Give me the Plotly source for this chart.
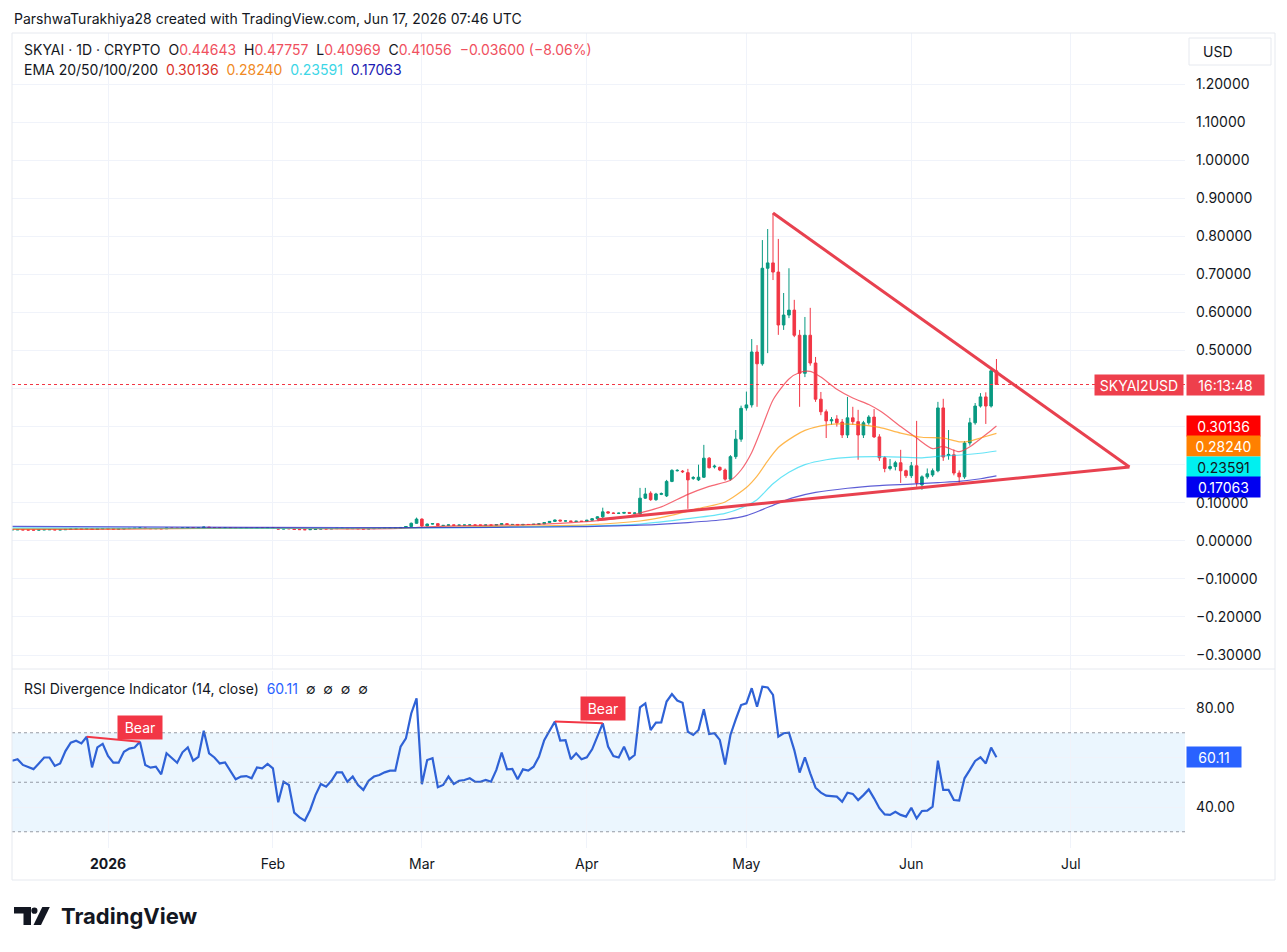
import pandas as pd
import plotly.graph_objects as go

# ---------------- data ----------------
dates = pd.date_range("2025-12-14", "2026-06-17", freq="D")

open_ = [
    # Dec 14-31
    0.0288, 0.0290, 0.0292, 0.0286, 0.0284, 0.0282, 0.0287, 0.0293, 0.0293, 0.0287, 0.0290, 0.0300, 0.0309, 0.0312, 0.0310, 0.0318, 0.0300, 0.0315,
    # Jan
    0.0320, 0.0314, 0.0310, 0.0312, 0.0320, 0.0325, 0.0328, 0.0336, 0.0322, 0.0320, 0.0321, 0.0316, 0.0333, 0.0330, 0.0327, 0.0337,
    0.0344, 0.0334, 0.0338, 0.0360, 0.0345, 0.0342, 0.0338, 0.0339, 0.0332, 0.0327, 0.0329, 0.0329, 0.0328, 0.0335, 0.0334,
    # Feb
    0.0337, 0.0333, 0.0308, 0.0320, 0.0317, 0.0298, 0.0294, 0.0291, 0.0298, 0.0308, 0.0316, 0.0314, 0.0319, 0.0326,
    0.0326, 0.0319, 0.0323, 0.0316, 0.0312, 0.0319, 0.0323, 0.0324, 0.0327, 0.0329, 0.0329, 0.0350, 0.0375, 0.0460,
    # Mar
    0.0570, 0.0390, 0.0440, 0.0450, 0.0400, 0.0405, 0.0418, 0.0408, 0.0412, 0.0413, 0.0416, 0.0411, 0.0411, 0.0414, 0.0411, 0.0425,
    0.0450, 0.0428, 0.0430, 0.0418, 0.0430, 0.0428, 0.0435, 0.0445, 0.0480, 0.0510, 0.0545, 0.0520, 0.0522, 0.0505, 0.0515,
    # Apr
    0.0510, 0.0540, 0.0580, 0.0630, 0.0760, 0.0730, 0.0720, 0.0725, 0.0745, 0.0720, 0.0710, 0.1120, 0.1250, 0.1080, 0.1220,
    0.1180, 0.1560, 0.1840, 0.1830, 0.1790, 0.1640, 0.1600, 0.1670, 0.2170, 0.1940, 0.1930, 0.1860, 0.1620, 0.2210, 0.2670,
    # May
    0.3490, 0.3570, 0.4960, 0.4650, 0.7160, 0.7300, 0.7060, 0.5670, 0.5930, 0.6060, 0.5400, 0.4400, 0.5400, 0.4670, 0.3720, 0.3390,
    0.3150, 0.3200, 0.3120, 0.2780, 0.3230, 0.3130, 0.2780, 0.3100, 0.3250, 0.2730, 0.2180, 0.1900, 0.1950, 0.2050, 0.1840,
    # Jun 1-17
    0.1710, 0.1970, 0.1470, 0.1680, 0.1730, 0.1840, 0.3490, 0.2240, 0.2260, 0.1780, 0.1680, 0.2570, 0.3100, 0.3540, 0.3780, 0.3540, 0.44643,
]
high = [
    0.0296, 0.0298, 0.0295, 0.0290, 0.0289, 0.0292, 0.0299, 0.0300, 0.0296, 0.0295, 0.0306, 0.0315, 0.0319, 0.0316, 0.0325, 0.0321, 0.0320, 0.0327,
    0.0325, 0.0318, 0.0316, 0.0324, 0.0330, 0.0333, 0.0342, 0.0340, 0.0326, 0.0326, 0.0325, 0.0338, 0.0337, 0.0333, 0.0342, 0.0350,
    0.0348, 0.0343, 0.0366, 0.0364, 0.0350, 0.0346, 0.0344, 0.0343, 0.0335, 0.0333, 0.0334, 0.0333, 0.0340, 0.0339, 0.0342,
    0.0342, 0.0338, 0.0325, 0.0325, 0.0321, 0.0302, 0.0299, 0.0303, 0.0313, 0.0321, 0.0320, 0.0324, 0.0331, 0.0332,
    0.0330, 0.0328, 0.0327, 0.0320, 0.0324, 0.0328, 0.0329, 0.0332, 0.0334, 0.0335, 0.0356, 0.0385, 0.0480, 0.0610,
    0.0590, 0.0452, 0.0462, 0.0455, 0.0411, 0.0424, 0.0423, 0.0417, 0.0419, 0.0421, 0.0420, 0.0416, 0.0419, 0.0418, 0.0431, 0.0460,
    0.0455, 0.0436, 0.0434, 0.0436, 0.0435, 0.0441, 0.0452, 0.0488, 0.0520, 0.0558, 0.0550, 0.0530, 0.0526, 0.0522, 0.0520,
    0.0550, 0.0592, 0.0645, 0.0870, 0.0775, 0.0745, 0.0740, 0.0755, 0.0750, 0.0740, 0.1390, 0.1390, 0.1300, 0.1260, 0.1270,
    0.1600, 0.1880, 0.1880, 0.1860, 0.1890, 0.1700, 0.2000, 0.2520, 0.2200, 0.2000, 0.1950, 0.1900, 0.2250, 0.2910, 0.3550,
    0.3920, 0.5300, 0.5140, 0.7900, 0.8190, 0.8610, 0.7930, 0.6510, 0.7160, 0.6330, 0.5540, 0.5880, 0.6120, 0.4830, 0.3910, 0.3450,
    0.3250, 0.3300, 0.3200, 0.3780, 0.3520, 0.3440, 0.3150, 0.3300, 0.3460, 0.2800, 0.2220, 0.2150, 0.2100, 0.2390, 0.1870,
    0.2070, 0.3150, 0.1720, 0.1900, 0.1900, 0.3650, 0.3730, 0.2910, 0.2400, 0.1850, 0.2620, 0.3230, 0.3620, 0.3880, 0.3900, 0.4500, 0.47757,
]
low = [
    0.0283, 0.0285, 0.0283, 0.0280, 0.0278, 0.0279, 0.0283, 0.0288, 0.0283, 0.0283, 0.0286, 0.0296, 0.0304, 0.0305, 0.0305, 0.0296, 0.0297, 0.0309,
    0.0308, 0.0305, 0.0305, 0.0307, 0.0315, 0.0320, 0.0324, 0.0318, 0.0315, 0.0316, 0.0311, 0.0312, 0.0325, 0.0322, 0.0323, 0.0332,
    0.0329, 0.0330, 0.0334, 0.0340, 0.0337, 0.0333, 0.0334, 0.0327, 0.0322, 0.0324, 0.0324, 0.0323, 0.0324, 0.0330, 0.0330,
    0.0328, 0.0302, 0.0304, 0.0312, 0.0293, 0.0289, 0.0286, 0.0287, 0.0294, 0.0303, 0.0309, 0.0310, 0.0315, 0.0321,
    0.0315, 0.0315, 0.0312, 0.0307, 0.0308, 0.0315, 0.0319, 0.0320, 0.0323, 0.0324, 0.0325, 0.0345, 0.0368, 0.0450,
    0.0365, 0.0382, 0.0432, 0.0392, 0.0395, 0.0400, 0.0402, 0.0403, 0.0407, 0.0408, 0.0405, 0.0406, 0.0406, 0.0405, 0.0406, 0.0420,
    0.0422, 0.0423, 0.0412, 0.0414, 0.0423, 0.0424, 0.0430, 0.0440, 0.0472, 0.0502, 0.0512, 0.0512, 0.0498, 0.0500, 0.0504,
    0.0505, 0.0535, 0.0550, 0.0580, 0.0715, 0.0705, 0.0710, 0.0715, 0.0712, 0.0712, 0.0690, 0.1100, 0.1050, 0.1050, 0.1200,
    0.1150, 0.1540, 0.1820, 0.1780, 0.0840, 0.1600, 0.1570, 0.1650, 0.1900, 0.1900, 0.1830, 0.1580, 0.1580, 0.2150, 0.2600,
    0.3420, 0.3500, 0.3520, 0.4600, 0.4930, 0.6850, 0.5410, 0.5540, 0.5850, 0.5350, 0.3520, 0.4300, 0.4600, 0.3650, 0.3300, 0.2700,
    0.3050, 0.3000, 0.2700, 0.2700, 0.3050, 0.2130, 0.2700, 0.3050, 0.2700, 0.2100, 0.1800, 0.1850, 0.1850, 0.1520, 0.1650,
    0.1650, 0.1420, 0.1340, 0.1630, 0.1680, 0.1800, 0.2100, 0.2130, 0.1720, 0.1520, 0.1630, 0.2500, 0.3050, 0.3500, 0.3070, 0.3500, 0.40969,
]
close = [
    0.0290, 0.0292, 0.0286, 0.0284, 0.0282, 0.0287, 0.0293, 0.0293, 0.0287, 0.0290, 0.0300, 0.0309, 0.0312, 0.0310, 0.0318, 0.0300, 0.0315, 0.0320,
    0.0314, 0.0310, 0.0312, 0.0320, 0.0325, 0.0328, 0.0336, 0.0322, 0.0320, 0.0321, 0.0316, 0.0333, 0.0330, 0.0327, 0.0337, 0.0344,
    0.0334, 0.0338, 0.0360, 0.0345, 0.0342, 0.0338, 0.0339, 0.0332, 0.0327, 0.0329, 0.0329, 0.0328, 0.0335, 0.0334, 0.0337,
    0.0333, 0.0308, 0.0320, 0.0317, 0.0298, 0.0294, 0.0291, 0.0298, 0.0308, 0.0316, 0.0314, 0.0319, 0.0326, 0.0326,
    0.0319, 0.0323, 0.0316, 0.0312, 0.0319, 0.0323, 0.0324, 0.0327, 0.0329, 0.0329, 0.0350, 0.0375, 0.0460, 0.0570,
    0.0390, 0.0440, 0.0450, 0.0400, 0.0405, 0.0418, 0.0408, 0.0412, 0.0413, 0.0416, 0.0411, 0.0411, 0.0414, 0.0411, 0.0425, 0.0450,
    0.0428, 0.0430, 0.0418, 0.0430, 0.0428, 0.0435, 0.0445, 0.0480, 0.0510, 0.0545, 0.0520, 0.0522, 0.0505, 0.0515, 0.0510,
    0.0540, 0.0580, 0.0630, 0.0760, 0.0730, 0.0720, 0.0725, 0.0745, 0.0720, 0.0730, 0.1120, 0.1230, 0.1080, 0.1230, 0.1240,
    0.1560, 0.1850, 0.1850, 0.1815, 0.1600, 0.1660, 0.1670, 0.2170, 0.1920, 0.1960, 0.1860, 0.1620, 0.2210, 0.2670, 0.3480,
    0.3570, 0.4960, 0.4650, 0.7160, 0.7300, 0.7060, 0.5670, 0.5930, 0.6060, 0.5400, 0.4400, 0.5400, 0.4670, 0.3720, 0.3390, 0.3150,
    0.3180, 0.3100, 0.2780, 0.3230, 0.3130, 0.2780, 0.3100, 0.3250, 0.2730, 0.2180, 0.1900, 0.1950, 0.2050, 0.1840, 0.1710,
    0.1970, 0.1520, 0.1680, 0.1760, 0.1840, 0.3490, 0.2200, 0.2270, 0.1780, 0.1680, 0.2570, 0.3100, 0.3540, 0.3780, 0.3540, 0.4464, 0.41056,
]

rsi = [
    58.7, 59.3, 57.0, 56.0, 55.3, 57.6, 60.0, 60.0, 56.6, 57.6,
    62.6, 66.0, 66.8, 65.7, 68.4, 56.0, 64.1, 65.5, 60.6, 57.9,
    57.9, 62.3, 63.6, 64.0, 66.4, 57.0, 55.9, 56.3, 53.2, 61.7,
    59.7, 57.9, 62.1, 64.1, 58.7, 60.3, 70.8, 61.7, 60.0, 57.6,
    58.0, 54.3, 51.2, 52.3, 52.5, 51.6, 56.0, 55.6, 57.4, 55.6,
    41.9, 50.2, 48.9, 37.7, 35.8, 34.5, 38.8, 44.8, 49.3, 48.2,
    50.6, 54.0, 54.0, 50.2, 52.3, 48.9, 46.9, 50.6, 52.3, 52.9,
    54.0, 54.7, 54.7, 64.4, 67.7, 77.8, 83.9, 49.2, 59.0, 59.7,
    48.0, 48.9, 52.3, 49.3, 50.6, 50.9, 51.6, 50.2, 50.2, 50.9,
    50.2, 55.0, 62.0, 55.2, 55.4, 51.2, 55.2, 54.7, 56.3, 60.3,
    67.0, 70.8, 74.5, 66.8, 67.0, 59.3, 61.7, 59.3, 60.1, 63.3,
    68.4, 73.8, 64.4, 60.6, 60.0, 64.4, 59.3, 61.0, 80.3, 81.9,
    71.1, 74.1, 74.2, 82.6, 85.6, 83.0, 82.1, 70.4, 69.1, 71.1,
    79.5, 69.5, 69.8, 67.1, 57.2, 69.1, 75.4, 81.2, 81.9, 88.0,
    80.5, 88.6, 88.3, 85.3, 68.4, 69.8, 70.0, 63.0, 53.9, 60.1,
    53.6, 47.8, 45.8, 44.6, 44.4, 44.2, 42.1, 45.8, 45.3, 42.8,
    44.8, 47.1, 43.5, 39.5, 37.0, 36.8, 38.1, 36.8, 36.1, 39.7,
    35.4, 38.4, 38.5, 40.1, 58.7, 46.9, 46.9, 42.8, 42.6, 51.6,
    55.0, 58.6, 60.1, 57.6, 64.0, 60.11,
]

# EMA lines, read at sample dates
ema20_dates = ["2025-12-14", "2025-12-28", "2026-01-10", "2026-01-25", "2026-02-05", "2026-02-15", "2026-02-25",
               "2026-03-01", "2026-03-10", "2026-03-20", "2026-03-27", "2026-04-03", "2026-04-08", "2026-04-11",
               "2026-04-15", "2026-04-20", "2026-04-24", "2026-04-28", "2026-04-30", "2026-05-02", "2026-05-04",
               "2026-05-06", "2026-05-09", "2026-05-11", "2026-05-13", "2026-05-15", "2026-05-18", "2026-05-21",
               "2026-05-24", "2026-05-26", "2026-05-28", "2026-05-30", "2026-06-02", "2026-06-05", "2026-06-07",
               "2026-06-10", "2026-06-12", "2026-06-14", "2026-06-16", "2026-06-17"]
ema20_vals = [0.0300, 0.0300, 0.0318, 0.0335, 0.0325, 0.0312, 0.0325, 0.0360, 0.0400, 0.0420, 0.0460, 0.0530,
              0.0620, 0.0730, 0.0890, 0.1220, 0.1430, 0.1590, 0.1860, 0.2320, 0.3000, 0.3700, 0.4250, 0.4420,
              0.4450, 0.4300, 0.3980, 0.3750, 0.3580, 0.3420, 0.3220, 0.3000, 0.2700, 0.2420, 0.2480, 0.2340,
              0.2470, 0.2680, 0.2900, 0.30136]
ema50_dates = ["2025-12-14", "2026-01-10", "2026-02-01", "2026-02-15", "2026-03-01", "2026-03-15", "2026-04-01",
               "2026-04-11", "2026-04-16", "2026-04-22", "2026-04-27", "2026-05-01", "2026-05-03", "2026-05-05",
               "2026-05-07", "2026-05-10", "2026-05-12", "2026-05-15", "2026-05-18", "2026-05-22", "2026-05-26",
               "2026-05-30", "2026-06-03", "2026-06-07", "2026-06-10", "2026-06-12", "2026-06-14", "2026-06-17"]
ema50_vals = [0.0315, 0.0318, 0.0328, 0.0320, 0.0345, 0.0380, 0.0420, 0.0520, 0.0640, 0.0850, 0.1020, 0.1400,
              0.1700, 0.2100, 0.2450, 0.2750, 0.2900, 0.3020, 0.3070, 0.3050, 0.2980, 0.2830, 0.2720, 0.2700,
              0.2600, 0.2620, 0.2700, 0.28240]
ema100_dates = ["2025-12-14", "2026-01-15", "2026-02-15", "2026-03-15", "2026-04-01", "2026-04-11", "2026-04-20",
                "2026-04-27", "2026-05-01", "2026-05-03", "2026-05-06", "2026-05-09", "2026-05-12", "2026-05-16",
                "2026-05-21", "2026-05-27", "2026-06-03", "2026-06-07", "2026-06-11", "2026-06-14", "2026-06-17"]
ema100_vals = [0.0340, 0.0330, 0.0330, 0.0355, 0.0385, 0.0440, 0.0580, 0.0720, 0.0920, 0.1080, 0.1500, 0.1800,
               0.2000, 0.2130, 0.2200, 0.2210, 0.2180, 0.2230, 0.2260, 0.2300, 0.23591]
ema200_dates = ["2025-12-14", "2026-01-15", "2026-02-15", "2026-03-15", "2026-04-01", "2026-04-11", "2026-04-20",
                "2026-04-27", "2026-05-01", "2026-05-04", "2026-05-07", "2026-05-10", "2026-05-14", "2026-05-20",
                "2026-05-26", "2026-06-01", "2026-06-06", "2026-06-10", "2026-06-14", "2026-06-17"]
ema200_vals = [0.0380, 0.0360, 0.0345, 0.0355, 0.0375, 0.0410, 0.0480, 0.0560, 0.0660, 0.0820, 0.0990, 0.1140,
               0.1270, 0.1380, 0.1450, 0.1490, 0.1530, 0.1560, 0.1630, 0.17063]

ema_names = ["EMA20", "EMA50", "EMA100", "EMA200"]

# triangle drawn on the chart
tri_upper_x = ["2026-05-06", "2026-07-12"]
tri_upper_y = [0.861, 0.194]
tri_lower_x = ["2026-04-03", "2026-07-12"]
tri_lower_y = [0.055, 0.194]

# RSI bearish divergence pairs (start, end)
bear_pairs = [("2025-12-28", "2026-01-07"), ("2026-03-26", "2026-04-04")]

price_ticks = [-0.3, -0.2, -0.1, 0.0, 0.1, 0.2, 0.3, 0.4, 0.5, 0.6, 0.7, 0.8, 0.9, 1.0, 1.1, 1.2]
# 0.2 / 0.3 / 0.4 are hidden under the value tags on the price scale
hidden_ticks = [0.2, 0.3, 0.4]
price_labels = ["" if v in hidden_ticks else f"{v:.5f}".replace("-", "\u2212") for v in price_ticks]
rsi_ticks = [40, 60, 80]
rsi_labels = ["40.00", "", "80.00"]
month_ticks = ["2026-01-01", "2026-02-01", "2026-03-01", "2026-04-01", "2026-05-01", "2026-06-01", "2026-07-01"]
month_labels = ["<b>2026</b>", "Feb", "Mar", "Apr", "May", "Jun", "Jul"]

assert len(dates) == len(open_) == len(high) == len(low) == len(close) == len(rsi)

# ---------------- geometry of the screenshot ----------------
FIG_W, FIG_H = 1287, 952
L, R, T, B = 12, 1185, 33, 848          # plotting area in pixels
MAIN_BOTTOM, RSI_TOP = 669, 671


def px(x):
    return (x - L) / (R - L)


def py(y):
    return (B - y) / (B - T)


def price_at(y):
    # 1.2 sits at y=84, -0.3 at y=655
    return 1.2 - (y - 84) * 1.5 / 571


def price_px(p):
    return 84 + (1.2 - p) * 571 / 1.5


def rsi_at(y):
    # 80 sits at y=708, 40 at y=807
    return 80 - (y - 708) * 40 / 99


DAY_PX = 5.32
jan1 = pd.Timestamp("2026-01-01")
x_left = jan1 - pd.Timedelta(days=(108 - L) / DAY_PX)
x_right = jan1 + pd.Timedelta(days=(R - 108) / DAY_PX)

UP, DOWN = "#089981", "#F23645"
GRID = "#F0F3FA"
TEXT = "#131722"
FONT = "Inter, Roboto, sans-serif"

ema_line_colors = ["rgba(242,54,69,0.75)", "rgba(255,152,0,0.7)", "rgba(0,210,240,0.6)", "rgba(40,40,200,0.75)"]
ema_box_colors = ["#FF0000", "#FF8000", "#00F0F0", "#0000F0"]
ema_box_text = ["white", "white", TEXT, "white"]
ema_legend_colors = ["#D9332B", "#F08A24", "#3CD6E6", "#1C1CB4"]

fig = go.Figure()

fig.add_trace(go.Candlestick(
    x=dates, open=open_, high=high, low=low, close=close,
    increasing=dict(line=dict(color=UP, width=1), fillcolor=UP),
    decreasing=dict(line=dict(color=DOWN, width=1), fillcolor=DOWN),
    whiskerwidth=0, hoverinfo="skip", name="SKYAI",
))

ema_series = [(ema20_dates, ema20_vals), (ema50_dates, ema50_vals),
              (ema100_dates, ema100_vals), (ema200_dates, ema200_vals)]
for (xs, ys), col, nm in zip(ema_series, ema_line_colors, ema_names):
    fig.add_trace(go.Scatter(x=xs, y=ys, mode="lines", name=nm,
                             line=dict(color=col, width=1.2, shape="spline", smoothing=0.7),
                             hoverinfo="skip"))

for xs, ys in [(tri_upper_x, tri_upper_y), (tri_lower_x, tri_lower_y)]:
    fig.add_trace(go.Scatter(x=xs, y=ys, mode="lines", line=dict(color="#E8414F", width=3),
                             hoverinfo="skip"))

# RSI pane
fig.add_trace(go.Scatter(x=dates, y=rsi, mode="lines", xaxis="x2", yaxis="y2",
                         line=dict(color="#2F62D6", width=2.2), hoverinfo="skip", name="RSI"))

rsi_by_date = dict(zip(dates.strftime("%Y-%m-%d"), rsi))
annotations = []
for d0, d1 in bear_pairs:
    fig.add_trace(go.Scatter(x=[d0, d1], y=[rsi_by_date[d0], rsi_by_date[d1]], mode="lines",
                             xaxis="x2", yaxis="y2", line=dict(color=DOWN, width=2), hoverinfo="skip"))
    annotations.append(dict(x=d1, y=rsi_by_date[d1], xref="x2", yref="y2", text="Bear",
                            showarrow=False, yanchor="bottom", yshift=2, bgcolor=DOWN,
                            font=dict(color="white", size=14), borderpad=3, width=38))

shapes = []
# RSI band and levels
shapes.append(dict(type="rect", xref="x2 domain", yref="y2", x0=0, x1=1, y0=30, y1=70,
                   fillcolor="rgba(33,150,243,0.09)", line=dict(width=0), layer="below"))
for lvl in (30, 50, 70):
    shapes.append(dict(type="line", xref="x2 domain", yref="y2", x0=0, x1=1, y0=lvl, y1=lvl,
                       line=dict(color="rgba(120,123,134,0.75)", width=1, dash="dot")))

# last price line
shapes.append(dict(type="line", xref="x domain", yref="y", x0=0, x1=1, y0=close[-1], y1=close[-1],
                   line=dict(color=DOWN, width=1, dash="dot")))

# frame
frame_col = "#E6E9EF"
for (x0, y0, x1, y1) in [(12, 33, 1275, 33), (12, 880, 1275, 880), (12, 33, 12, 880),
                         (1275, 33, 1275, 880), (12, MAIN_BOTTOM, 1275, MAIN_BOTTOM)]:
    shapes.append(dict(type="line", xref="paper", yref="paper", x0=px(x0), x1=px(x1),
                       y0=py(y0), y1=py(y1), line=dict(color=frame_col, width=1)))

# USD box
shapes.append(dict(type="rect", xref="paper", yref="paper", x0=px(1189), x1=px(1271),
                   y0=py(65), y1=py(38), line=dict(color="#E6E9EF", width=1), fillcolor="white"))


# TradingView logo
def path_px(points):
    pts = [f"{px(x):.5f},{py(y):.5f}" for x, y in points]
    return "M " + " L ".join(pts) + " Z"


logo_col = TEXT
shapes.append(dict(type="path", xref="paper", yref="paper", line=dict(width=0), fillcolor=logo_col,
                   path=path_px([(14, 907), (31, 907), (31, 925), (23.5, 925), (23.5, 913.5), (14, 913.5)])))
shapes.append(dict(type="circle", xref="paper", yref="paper", line=dict(width=0), fillcolor=logo_col,
                   x0=px(31.3), x1=px(37.5), y0=py(913.8), y1=py(907.6)))
shapes.append(dict(type="path", xref="paper", yref="paper", line=dict(width=0), fillcolor=logo_col,
                   path=path_px([(33.5, 925), (41, 925), (49.8, 907), (42.3, 907)])))

red_v = "#F0505E"
annotations += [
    dict(x=px(12), y=py(18), xref="paper", yref="paper", xanchor="left", yanchor="middle", showarrow=False,
         text="ParshwaTurakhiya28 created with TradingView.com, Jun 17, 2026 07:46 UTC",
         font=dict(size=14, color=TEXT)),
    dict(x=px(22), y=py(50), xref="paper", yref="paper", xanchor="left", yanchor="middle", showarrow=False,
         text=(f"SKYAI · 1D · CRYPTO  O<span style='color:{red_v}'>{open_[-1]:.5f}</span>  "
               f"H<span style='color:{red_v}'>{high[-1]:.5f}</span>  "
               f"L<span style='color:{red_v}'>{low[-1]:.5f}</span>  "
               f"C<span style='color:{red_v}'>{close[-1]:.5f}</span>  "
               f"<span style='color:{red_v}'>\u22120.03600 (\u22128.06%)</span>"),
         font=dict(size=14, color=TEXT)),
    dict(x=px(22), y=py(70), xref="paper", yref="paper", xanchor="left", yanchor="middle", showarrow=False,
         text="EMA 20/50/100/200  " + "  ".join(
             f"<span style='color:{c}'>{s[1][-1]:.5f}</span>" for s, c in zip(ema_series, ema_legend_colors)),
         font=dict(size=14, color=TEXT)),
    dict(x=px(22), y=py(688), xref="paper", yref="paper", xanchor="left", yanchor="middle", showarrow=False,
         text=f"RSI Divergence Indicator (14, close)  <span style='color:#2962FF'>{rsi[-1]:.2f}</span>  \u2205  \u2205  \u2205  \u2205",
         font=dict(size=14, color=TEXT)),
    dict(x=px(1201), y=py(51.5), xref="paper", yref="paper", xanchor="left", yanchor="middle", showarrow=False,
         text="USD", font=dict(size=14, color=TEXT)),
    # last price tags
    dict(x=px(1184), y=close[-1], xref="paper", yref="y", xanchor="right", yanchor="middle", showarrow=False,
         text="SKYAI2USD", bgcolor="#EE3F4C", font=dict(size=14, color="white"), width=84, height=16, borderpad=2),
    dict(x=px(1186), y=close[-1], xref="paper", yref="y", xanchor="left", yanchor="middle", showarrow=False,
         text="16:13:48", bgcolor="#EE3F4C", font=dict(size=14, color="white"), width=73, height=16, borderpad=2),
    dict(x=px(1186), y=rsi[-1], xref="paper", yref="y2", xanchor="left", yanchor="middle", showarrow=False,
         text=f"{rsi[-1]:.2f}", bgcolor="#2962FF", font=dict(size=14, color="white"), width=50, height=16, borderpad=2),
    dict(x=px(59), y=py(916), xref="paper", yref="paper", xanchor="left", yanchor="middle", showarrow=False,
         text="<b>TradingView</b>", font=dict(size=22, color=TEXT)),
]

# EMA value tags on the price scale, pushed apart like TradingView does
prev = None
for (xs, ys), bg, fg in zip(ema_series, ema_box_colors, ema_box_text):
    ypix = price_px(ys[-1])
    if prev is not None:
        ypix = max(ypix, prev + 20.3)
    prev = ypix
    annotations.append(dict(x=px(1186), y=py(ypix), xref="paper", yref="paper", xanchor="left",
                            yanchor="middle", showarrow=False, text=f"{ys[-1]:.5f}", bgcolor=bg,
                            font=dict(size=14, color=fg), width=69, height=16, borderpad=2))

fig.update_layout(
    width=FIG_W, height=FIG_H,
    margin=dict(l=L, r=FIG_W - R, t=T, b=FIG_H - B),
    paper_bgcolor="white", plot_bgcolor="white",
    showlegend=False,
    font=dict(family=FONT, size=14, color=TEXT),
    xaxis=dict(domain=[0, 1], anchor="y", range=[x_left, x_right], tickmode="array", tickvals=month_ticks,
               showticklabels=False, showgrid=True, gridcolor=GRID, zeroline=False, showline=False,
               rangeslider=dict(visible=False), fixedrange=True),
    yaxis=dict(domain=[py(MAIN_BOTTOM), 1], range=[price_at(MAIN_BOTTOM), price_at(T)], side="right",
               tickmode="array", tickvals=price_ticks, ticktext=price_labels, showgrid=True, gridcolor=GRID,
               zeroline=False, showline=False, ticks="", ticklabelstandoff=10,
               tickfont=dict(size=14, color=TEXT), fixedrange=True),
    xaxis2=dict(domain=[0, 1], anchor="y2", matches="x", range=[x_left, x_right], tickmode="array",
                tickvals=month_ticks, ticktext=month_labels, showgrid=True, gridcolor=GRID, zeroline=False,
                showline=False, ticks="", ticklabelstandoff=6, tickfont=dict(size=14, color=TEXT)),
    yaxis2=dict(domain=[0, py(RSI_TOP)], range=[rsi_at(B), rsi_at(RSI_TOP)], side="right",
                tickmode="array", tickvals=rsi_ticks, ticktext=rsi_labels, showgrid=True, gridcolor=GRID,
                zeroline=False, showline=False, ticks="", ticklabelstandoff=10,
                tickfont=dict(size=14, color=TEXT), fixedrange=True),
    shapes=shapes,
    annotations=annotations,
)

fig.write_html("out.html", config={"displayModeBar": False},
               post_script="document.body.style.margin='0px';")
